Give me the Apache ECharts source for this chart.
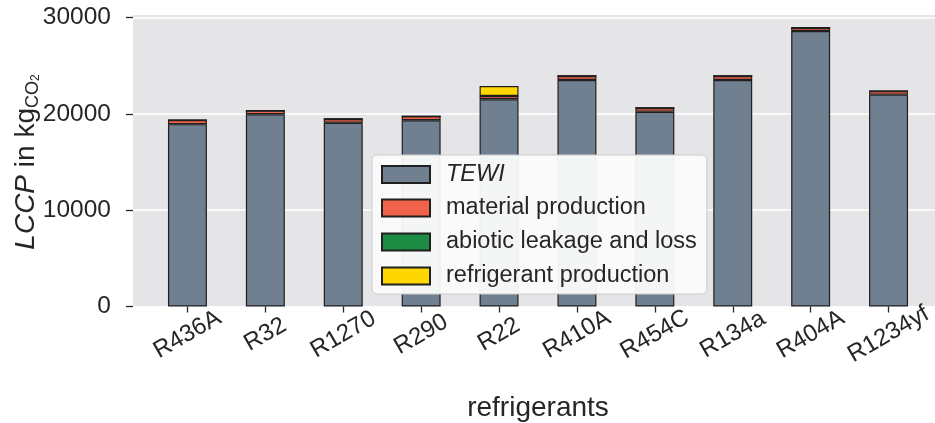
<!DOCTYPE html>
<html>
<head>
<meta charset="utf-8">
<script src="https://cdn.jsdelivr.net/npm/echarts@6/dist/echarts.min.js"></script>
<style>
  html, body { margin: 0; padding: 0; background: #ffffff; }
  #chart { width: 935px; height: 423px; }
</style>
</head>
<body>
<div id="chart"></div>
<script>
const categories = ['R436A', 'R32', 'R1270', 'R290', 'R22', 'R410A', 'R454C', 'R134a', 'R404A', 'R1234yf'];
const tewi = [18930, 19950, 19080, 19340, 21510, 23510, 20220, 23510, 28600, 21990];
const materialProduction = [430, 380, 390, 400, 340, 420, 390, 420, 340, 380];
const abioticLeakage = [0, 0, 0, 0, 0, 0, 0, 0, 0, 0];
const refrigerantProduction = [0, 0, 0, 0, 1040, 0, 0, 0, 0, 0];
const yTicks = [0, 10000, 20000, 30000];

const seriesNames = ['TEWI', 'material production', 'abiotic leakage and loss', 'refrigerant production'];
const seriesColors = ['#708090', '#f26449', '#1e8b45', '#ffd700'];
const seriesData = [tewi, materialProduction, abioticLeakage, refrigerantProduction];

const FONT = '"Liberation Sans", Arial, Helvetica, sans-serif';
const TXT = '#262626';

const chart = echarts.init(document.getElementById('chart'), null, { renderer: 'canvas' });

const option = {
  animation: false,
  backgroundColor: '#ffffff',
  textStyle: { fontFamily: FONT, color: TXT },
  grid: [
    { left: 133, right: 0, top: 15, height: 291.5, show: true, backgroundColor: '#e5e5e7', borderWidth: 0, containLabel: false, outerBoundsMode: 'none' },
    { left: 133, right: 0, top: 17.5, height: 289, show: false, containLabel: false, outerBoundsMode: 'none' },
    { left: 148.5, right: 7.5, top: 17.5, height: 289, show: false, containLabel: false, outerBoundsMode: 'none' }
  ],
  xAxis: [
    { gridIndex: 0, type: 'value', min: 0, max: 1, show: false },
    { gridIndex: 1, type: 'value', min: 0, max: 1, show: false },
    {
      gridIndex: 2, type: 'category', data: categories, boundaryGap: true, offset: 3,
      axisLine: { show: false },
      axisTick: { show: true, alignWithLabel: true, length: 6, lineStyle: { color: TXT, width: 1.3 } },
      axisLabel: { rotate: 30, align: 'center', verticalAlign: 'middle', margin: 25, fontSize: 24, color: TXT, fontFamily: FONT, interval: 0 },
      splitLine: { show: false },
      name: 'refrigerants', nameLocation: 'middle', nameGap: 85, nameMoveOverlap: false,
      nameTextStyle: { fontSize: 28, color: TXT, fontFamily: FONT }
    }
  ],
  yAxis: [
    { gridIndex: 0, type: 'value', min: 0, max: 1, show: false },
    {
      gridIndex: 1, type: 'value', min: yTicks[0], max: yTicks[yTicks.length - 1], interval: 10000, offset: 2,
      axisLine: { show: false },
      axisTick: { show: true, length: 7, lineStyle: { color: TXT, width: 1.3 } },
      axisLabel: { margin: 20, fontSize: 24.5, color: TXT, fontFamily: FONT, formatter: function (v) { return String(v); } },
      splitLine: { show: true, lineStyle: { color: '#ffffff', width: 1.6 } },
      name: '{it|LCCP} in kg{sub|CO}{sub2|2}', nameLocation: 'middle', nameRotate: 90, nameGap: 89, nameMoveOverlap: false,
      nameTextStyle: {
        fontSize: 28, color: TXT, fontFamily: FONT, lineHeight: 31,
        rich: {
          it: { fontStyle: 'italic', fontSize: 28, color: TXT, fontFamily: FONT, lineHeight: 31 },
          sub: { fontSize: 18, color: TXT, fontFamily: FONT, lineHeight: 14, verticalAlign: 'bottom' },
          sub2: { fontSize: 12, color: TXT, fontFamily: FONT, lineHeight: 6, verticalAlign: 'bottom' }
        }
      }
    },
    { gridIndex: 2, type: 'value', min: yTicks[0], max: yTicks[yTicks.length - 1], show: false }
  ],
  legend: {
    orient: 'vertical', left: 372, top: 155,
    data: seriesNames,
    itemWidth: 48, itemHeight: 17, itemGap: 10,
    padding: [8, 10, 6, 9],
    backgroundColor: 'rgba(251,251,251,0.95)',
    borderColor: '#cccccc', borderWidth: 1, borderRadius: 5,
    icon: 'rect',
    formatter: function (name) { return name === 'TEWI' ? '{it|' + name + '}' : '{n|' + name + '}'; },
    textStyle: {
      fontSize: 23.5, color: TXT, fontFamily: FONT, lineHeight: 20,
      rich: {
        it: { fontStyle: 'italic', fontSize: 23.5, color: TXT, fontFamily: FONT, padding: [0, 0, 0, 11], lineHeight: 20 },
        n: { fontSize: 23.5, color: TXT, fontFamily: FONT, padding: [0, 0, 0, 11], lineHeight: 20 }
      }
    }
  },
  series: seriesNames.map(function (name, i) {
    return {
      name: name, type: 'bar', stack: 'total',
      xAxisIndex: 2, yAxisIndex: 2,
      barWidth: '50%',
      data: seriesData[i],
      itemStyle: { color: seriesColors[i], borderColor: '#1f1f1f', borderWidth: 1.2 },
      emphasis: { disabled: true }
    };
  })
};

chart.setOption(option);
</script>
</body>
</html>
